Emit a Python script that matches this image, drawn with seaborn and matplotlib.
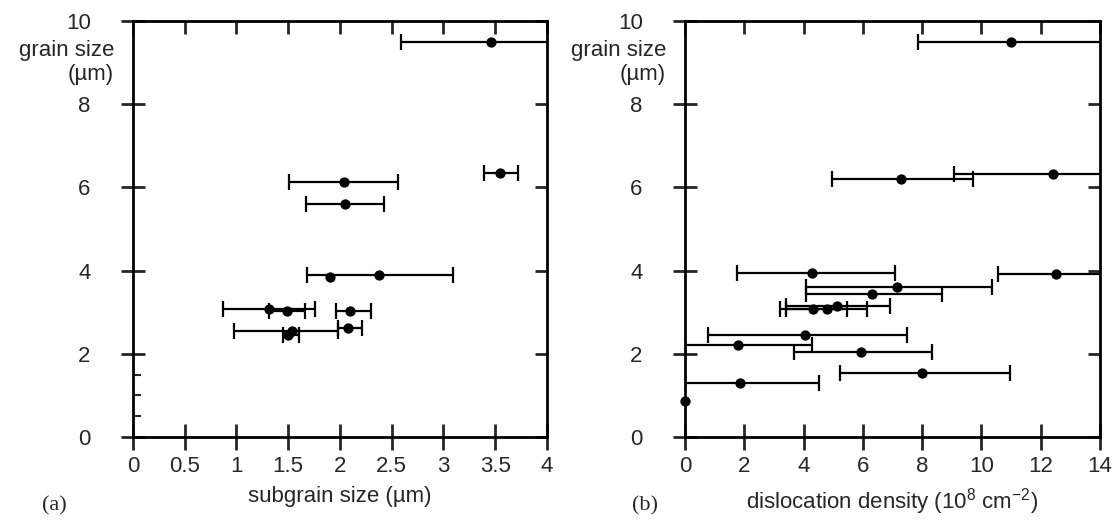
import numpy as np
import pandas as pd
import matplotlib
matplotlib.use("Agg")
import matplotlib.pyplot as plt
import seaborn as sns

# (a) subgrain size vs grain size
sub_x = [3.46, 3.55, 2.04, 2.05, 1.90, 2.38, 1.31, 1.49, 2.10, 2.08, 1.54, 1.50]
sub_y = [9.5, 6.35, 6.13, 5.6, 3.85, 3.9, 3.08, 3.03, 3.03, 2.62, 2.55, 2.45]
sub_lo = [2.59, 3.39, 1.51, 1.67, 1.90, 1.68, 0.87, 1.31, 1.96, 1.98, 0.98, 1.45]
sub_hi = [4.30, 3.72, 2.56, 2.43, 1.90, 3.09, 1.76, 1.66, 2.30, 2.21, 1.98, 1.60]

# (b) dislocation density vs grain size
dis_x = [11.0, 7.3, 12.4, 4.3, 12.5, 7.15, 6.3, 4.33, 4.8, 5.13, 4.05, 1.79, 5.95, 8.0, 1.86, 0.0]
dis_y = [9.5, 6.2, 6.33, 3.93, 3.92, 3.6, 3.43, 3.07, 3.07, 3.14, 2.46, 2.2, 2.04, 1.53, 1.31, 0.87]
dis_lo = [7.87, 4.97, 9.09, 1.76, 10.57, 4.09, 4.09, 3.41, 3.2, 3.41, 0.78, -0.6, 3.68, 5.24, -0.6, 0.0]
dis_hi = [15.0, 9.7, 15.0, 7.1, 15.0, 10.37, 8.68, 5.47, 6.15, 6.9, 7.5, 4.29, 8.34, 10.95, 4.53, 0.0]

sns.set_style("white")
plt.rcParams['font.family'] = ['Liberation Sans', 'DejaVu Sans']
plt.rcParams['mathtext.fontset'] = 'custom'
plt.rcParams['mathtext.rm'] = 'Liberation Sans'

fig = plt.figure(figsize=(11.12, 5.22), dpi=100)
ax1 = fig.add_axes([0.1196, 0.1628, 0.3723, 0.7972])
ax2 = fig.add_axes([0.616, 0.1628, 0.3732, 0.7972])

FS = 16


def draw(ax, x, y, lo, hi, xlim, xticks, xlabels, xlabel):
    df = pd.DataFrame({'x': x, 'y': y, 'lo': lo, 'hi': hi})
    bars = df[df['hi'] > df['lo']]  # points without a bar get none
    err = np.array([bars['x'] - bars['lo'], bars['hi'] - bars['x']])
    ax.errorbar(bars['x'], bars['y'], xerr=err, fmt='none', ecolor='black',
                elinewidth=1.6, capsize=6, capthick=1.6, zorder=2)
    sns.scatterplot(data=df, x='x', y='y', ax=ax, color='black', s=55,
                    edgecolor='black', linewidth=0, zorder=3, legend=False, clip_on=False)
    ax.set_xlim(*xlim)
    ax.set_ylim(0, 10)
    ax.set_xticks(xticks)
    ax.set_xticklabels(xlabels)
    ax.set_yticks([0, 2, 4, 6, 8, 10])
    ax.set_xlabel(xlabel, fontsize=FS, labelpad=7)
    ax.set_ylabel('')
    for s in ax.spines.values():
        s.set_linewidth(2)
        s.set_color('black')
    ax.tick_params(axis='x', which='major', bottom=True, top=False, direction='inout',
                   length=19, width=2, labelsize=FS, pad=4)
    ax.tick_params(axis='y', which='major', left=True, right=False, direction='inout',
                   length=17, width=2, labelsize=FS, pad=22)
    # inward ticks on top and right, no labels
    secx = ax.secondary_xaxis('top')
    secx.set_xticks(xticks)
    secx.tick_params(direction='in', length=9, width=2, labeltop=False)
    secx.spines['top'].set_visible(False)
    secy = ax.secondary_yaxis('right')
    secy.set_yticks([0, 2, 4, 6, 8, 10])
    secy.tick_params(direction='in', length=9, width=2, labelright=False)
    secy.spines['right'].set_visible(False)
    ax.text(-0.046, 0.955, 'grain size\n(\u00b5m)', transform=ax.transAxes,
            fontsize=FS, ha='right', va='top', ma='right', linespacing=1.2)


draw(ax1, sub_x, sub_y, sub_lo, sub_hi, (0, 4),
     [0, 0.5, 1, 1.5, 2, 2.5, 3, 3.5, 4],
     ['0', '0.5', '1', '1.5', '2', '2.5', '3', '3.5', '4'],
     'subgrain size (\u00b5m)')
ax1.set_yticks([0.5, 1.0, 1.5], minor=True)
ax1.tick_params(axis='y', which='minor', left=True, direction='in', length=6, width=1.5)

draw(ax2, dis_x, dis_y, dis_lo, dis_hi, (0, 14),
     [0, 2, 4, 6, 8, 10, 12, 14],
     ['0', '2', '4', '6', '8', '10', '12', '14'],
     'dislocation density (10$^{8}$ cm$^{-2}$)')

fig.text(0.038, 0.03, '(a)', fontsize=FS, family='Liberation Serif', va='center')
fig.text(0.568, 0.03, '(b)', fontsize=FS, family='Liberation Serif', va='center')

fig.savefig('out.png', dpi=100)
